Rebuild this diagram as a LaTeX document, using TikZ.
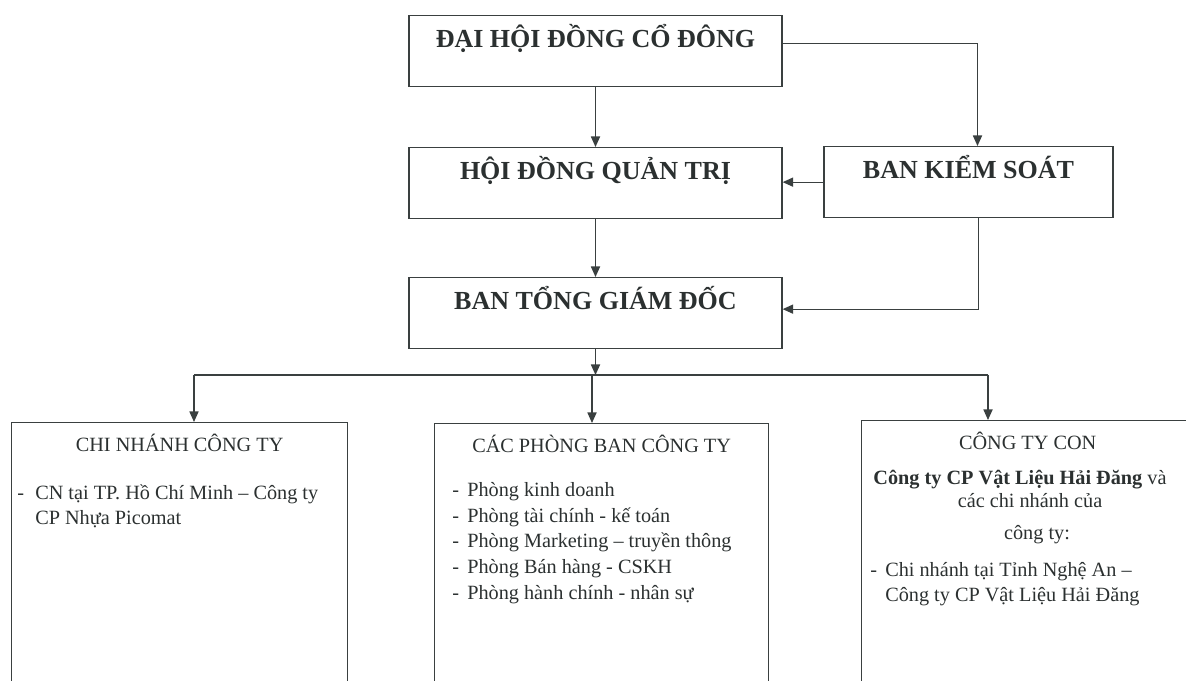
\documentclass[tikz,border=0pt]{standalone}
\usepackage{fontspec}
\setmainfont{Liberation Serif}
\usetikzlibrary{arrows.meta, positioning, calc}
\definecolor{ink}{HTML}{2B3030}
\definecolor{wirec}{HTML}{3A4040}

\begin{document}
\begin{tikzpicture}[x=0.025cm, y=-0.025cm,
    topbox/.style={draw=wirec, line width=0.9pt, anchor=north, inner sep=0pt,
                   minimum width=#1*0.025cm, text height=0.8cm, text depth=0.975cm,
                   font=\fontsize{18.5}{22}\selectfont\bfseries, text=ink},
    unitbox/.style={draw=wirec, line width=0.9pt, anchor=north west, inner sep=0pt,
                    minimum width=#1*0.025cm, text height=0.725cm, text depth=7cm,
                    font=\fontsize{14.4}{17}\selectfont, text=ink},
    item/.style={anchor=base west, inner sep=0pt, font=\fontsize{14.4}{17}\selectfont, text=ink},
    centred/.style={anchor=base, inner sep=0pt, font=\fontsize{14.4}{17}\selectfont, text=ink},
    link/.style={draw=wirec, line width=0.9pt, -{Triangle[length=7.5pt, width=6.5pt]}},
    bus/.style={draw=wirec, line width=0.9pt}
]
    \useasboundingbox (0,0) rectangle (1186,681);
    \clip (0,0) rectangle (1186,681);

    % Upper levels
    \node[topbox=373] (dhdc) at (595.5,15) {ĐẠI HỘI ĐỒNG CỔ ĐÔNG};
    \node[topbox=373] (hdqt) at (595.5,147) {HỘI ĐỒNG QUẢN TRỊ};
    \node[topbox=373] (btgd) at (595.5,277) {BAN TỔNG GIÁM ĐỐC};
    \node[topbox=289] (bks) at (968.5,146) {BAN KIỂM SOÁT};

    % Lower units
    \node[unitbox=336] (cn) at (11,422) {CHI NHÁNH CÔNG TY};
    \node[unitbox=334] (pb) at (434,423) {CÁC PHÒNG BAN CÔNG TY};
    \node[unitbox=332] (cty) at (861,420) {CÔNG TY CON};

    % Branch list
    \node[item] (cn1) at (17,500) {\makebox[0.45cm][l]{-}CN tại TP. Hồ Chí Minh – Công ty};
    \node[item] (cn2) at (35,525) {CP Nhựa Picomat};

    % Department list
    \node[item] (pb1) at (452,497) {\makebox[0.375cm][l]{-}Phòng kinh doanh};
    \node[item] (pb2) at (452,523) {\makebox[0.375cm][l]{-}Phòng tài chính - kế toán};
    \node[item] (pb3) at (452,548) {\makebox[0.375cm][l]{-}Phòng Marketing – truyền thông};
    \node[item] (pb4) at (452,574) {\makebox[0.375cm][l]{-}Phòng Bán hàng - CSKH};
    \node[item] (pb5) at (452,600) {\makebox[0.375cm][l]{-}Phòng hành chính - nhân sự};

    % Subsidiary text
    \node[centred] (cty1) at (1020,485) {\textbf{Công ty CP Vật Liệu Hải Đăng} và};
    \node[centred] (cty2) at (1030,508) {các chi nhánh của};
    \node[centred] (cty3) at (1037,540) {công ty:};
    \node[item] (cty4) at (870,577) {\makebox[0.375cm][l]{-}Chi nhánh tại Tỉnh Nghệ An –};
    \node[item] (cty5) at (885,602) {Công ty CP Vật Liệu Hải Đăng};

    % Links between upper levels
    \draw[link] (dhdc.south) -- (hdqt.north);
    \draw[link] ($(dhdc.east)+(0,-8)$) -| ($(bks.north)+(9,0)$);
    \draw[link] (bks.west) -- (bks.west -| hdqt.east);
    \draw[link] (hdqt.south) -- (btgd.north);
    \draw[link] ($(bks.south)+(10,0)$) |- ($(btgd.east)+(0,-4)$);

    % Distribution to units
    \coordinate (split) at (595.5,375);
    \coordinate (tapL) at (194,375);
    \coordinate (tapM) at (592,375);
    \coordinate (tapR) at (988,375);
    \draw[link] (btgd.south) -- (split);
    \draw[bus] (tapL) -- (tapR);
    \draw[link] (tapL) -- (tapL |- cn.north);
    \draw[link] (tapM) -- (tapM |- pb.north);
    \draw[link] (tapR) -- (tapR |- cty.north);
\end{tikzpicture}
\end{document}
